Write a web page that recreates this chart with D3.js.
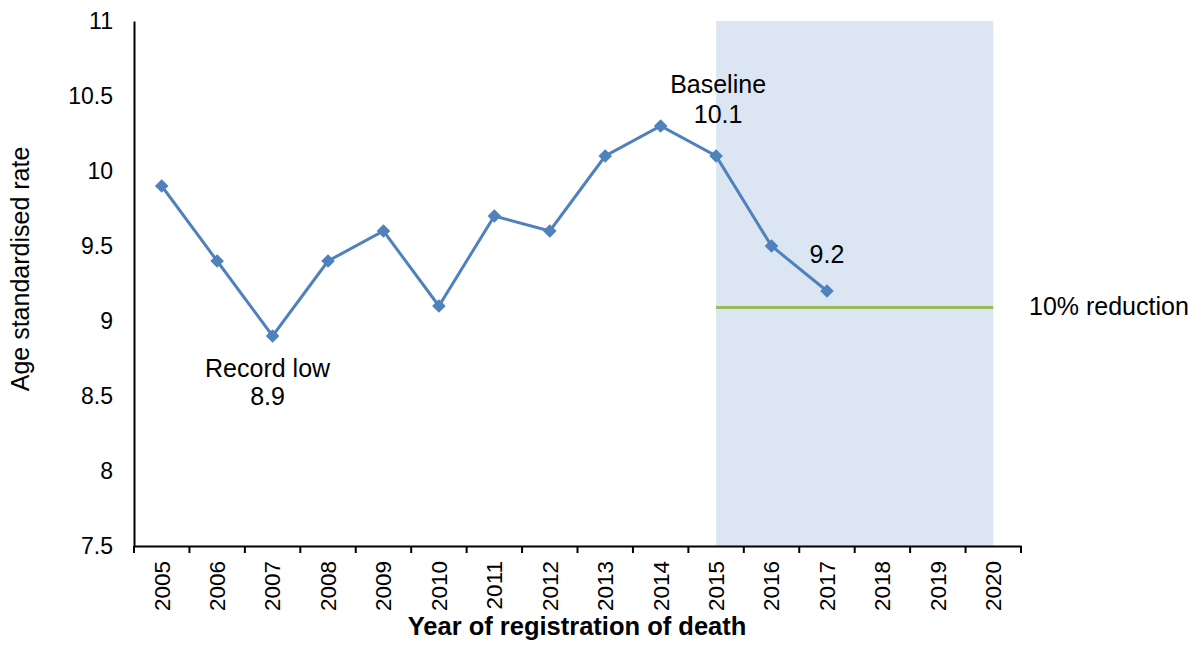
<!DOCTYPE html>
<html><head><meta charset="utf-8">
<script src="https://cdn.jsdelivr.net/npm/d3@7"></script>
<style>body{margin:0;background:#fff;}svg{display:block;font-family:"Liberation Sans",Arial,sans-serif;}</style>
</head><body>
<svg id="c" width="1202" height="653"></svg>
<script>
const years = ["2005","2006","2007","2008","2009","2010","2011","2012","2013","2014","2015","2016","2017","2018","2019","2020"];
const rateYears = ["2005","2006","2007","2008","2009","2010","2011","2012","2013","2014","2015","2016","2017"];
const rates = [9.9,9.4,8.9,9.4,9.6,9.1,9.7,9.6,10.1,10.3,10.1,9.5,9.2];
const yTicks = [7.5,8,8.5,9,9.5,10,10.5,11];
const targetValue = 9.09;
const targetYears = ["2015","2020"];
const shadeYears = ["2015","2020"];

const svg = d3.select("#c");
const mLeft = 134, mRight = 1021, mTop = 21, mBottom = 546;
const x = d3.scaleBand().domain(years).range([mLeft, mRight]).padding(0);
const y = d3.scaleLinear().domain([7.5, 11]).range([mBottom, mTop]);
const cx = d => x(d) + x.bandwidth()/2;
const FONT = "Liberation Sans, Arial, sans-serif";

// shaded region
svg.append("rect").attr("x", cx(shadeYears[0])).attr("y", y(11))
  .attr("width", cx(shadeYears[1]) - cx(shadeYears[0])).attr("height", y(7.5) - y(11))
  .attr("fill", "#dce6f2");

// target line
svg.append("line").attr("x1", cx(targetYears[0])).attr("x2", cx(targetYears[1]))
  .attr("y1", y(targetValue)).attr("y2", y(targetValue))
  .attr("stroke", "#9bbb59").attr("stroke-width", 3);

// y axis
const ya = svg.append("g").attr("transform", `translate(${mLeft},0)`)
  .call(d3.axisLeft(y).tickValues(yTicks).tickSize(0).tickPadding(21).tickFormat(d3.format("")));
ya.select(".domain").attr("stroke", "#000").attr("stroke-width", 2);
ya.selectAll("text").attr("font-size", 23).attr("fill", "#000").attr("font-family", FONT);

// x axis
const xa = svg.append("g").attr("transform", `translate(0,${mBottom})`)
  .call(d3.axisBottom(x).tickSize(0).tickSizeOuter(0));
xa.select(".domain").attr("stroke", "#000").attr("stroke-width", 2);
xa.selectAll(".tick line").remove();
xa.selectAll(".tick text").attr("font-size", 22.5).attr("fill", "#000")
  .attr("font-family", FONT)
  .attr("transform", "rotate(-90)").attr("text-anchor", "end")
  .attr("x", -15).attr("y", 0).attr("dy", "0.35em");
// band boundary ticks
const bounds = years.map(d => x(d)).concat([mRight]);
svg.append("g").selectAll("line").data(bounds).join("line")
  .attr("x1", d => d).attr("x2", d => d).attr("y1", mBottom).attr("y2", mBottom + 7)
  .attr("stroke", "#000").attr("stroke-width", 2);

// line
const pts = rateYears.map((d, i) => [cx(d), y(rates[i])]);
svg.append("path").attr("d", d3.line()(pts)).attr("fill", "none")
  .attr("stroke", "#4f81bd").attr("stroke-width", 3);
svg.append("g").selectAll("path").data(pts).join("path")
  .attr("d", d3.symbol(d3.symbolDiamond2, 118)())
  .attr("transform", d => `translate(${d[0]},${d[1]})`).attr("fill", "#4f81bd");

// annotations
const ann = svg.append("g").attr("font-size", 25).attr("fill", "#000").attr("text-anchor", "middle").attr("font-family", FONT);
ann.append("text").attr("x", cx("2015") + 2).attr("y", y(10.1) - 63).text("Baseline");
ann.append("text").attr("x", cx("2015") + 2).attr("y", y(10.1) - 33).text("10.1");
ann.append("text").attr("x", cx("2017")).attr("y", y(9.2) - 28).text("9.2");
ann.append("text").attr("x", cx("2007") - 5).attr("y", y(8.9) + 41).text("Record low");
ann.append("text").attr("x", cx("2007") - 5).attr("y", y(8.9) + 69).text("8.9");
ann.append("text").attr("x", 1029).attr("y", y(targetValue) + 7).attr("text-anchor", "start").text("10% reduction");

// axis titles
svg.append("text").attr("transform", `translate(29,269) rotate(-90)`)
  .attr("text-anchor", "middle").attr("font-size", 25).attr("font-family", FONT).text("Age standardised rate");
svg.append("text").attr("x", 577).attr("y", 635).attr("text-anchor", "middle")
  .attr("font-size", 25.5).attr("font-weight", "bold").attr("font-family", FONT).text("Year of registration of death");
</script>
</body></html>
